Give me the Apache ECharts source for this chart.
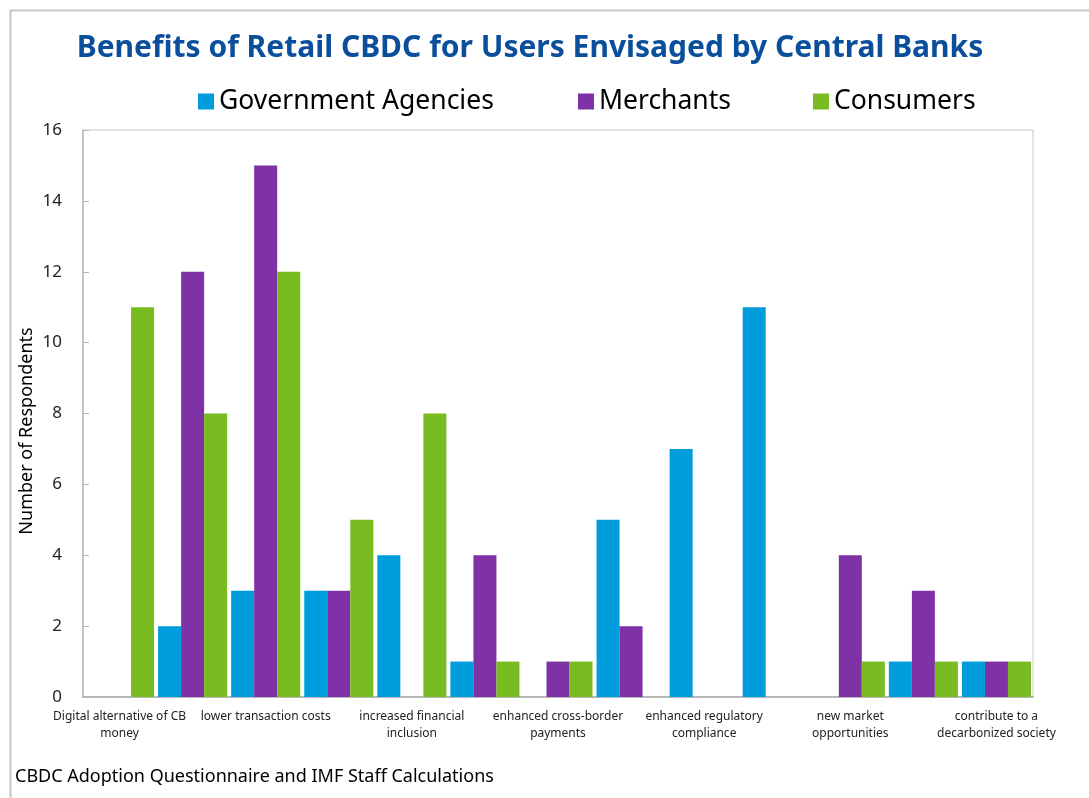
<!DOCTYPE html>
<html>
<head>
<meta charset="utf-8">
<script src="https://cdn.jsdelivr.net/npm/echarts@6/dist/echarts.min.js"></script>
<style>html,body{margin:0;padding:0;background:#fff;}#c{width:1089px;height:798px;}</style>
</head>
<body>
<div id="c"></div>
<script>
const categories = [
  "Digital alternative of CB\nmoney", "",
  "lower transaction costs", "",
  "increased financial\ninclusion", "",
  "enhanced cross-border\npayments", "",
  "enhanced regulatory\ncompliance", "",
  "new market\nopportunities", "",
  "contribute to a\ndecarbonized society"
];
const governmentAgencies = [0, 2, 3, 3, 4, 1, 0, 5, 7, 11, 0, 1, 1];
const merchants          = [0, 12, 15, 3, 0, 4, 1, 2, 0, 0, 4, 3, 1];
const consumers          = [11, 8, 12, 5, 8, 1, 1, 0, 0, 0, 1, 1, 1];
const yTicks = { min: 0, max: 16, interval: 2 };

const FONT = "Noto Sans";
const chart = echarts.init(document.getElementById('c'), null, { renderer: 'canvas' });
const legendText = { fontFamily: FONT, fontSize: 26.5, color: '#000' };
chart.setOption({
  animation: false,
  textStyle: { fontFamily: FONT },
  title: {
    text: 'Benefits of Retail CBDC for Users Envisaged by Central Banks',
    left: 525, top: 28, textAlign: 'center',
    textStyle: { fontFamily: FONT, fontSize: 30, fontWeight: 'bold', color: '#0b4f9c' }
  },
  graphic: [{
    type: 'rect', left: 8, top: 8, shape: { width: 1100, height: 800 },
    style: { fill: 'none', stroke: '#c6c6c6', lineWidth: 2 }, silent: true
  }, {
    type: 'text', left: 15, top: 768,
    style: { text: 'CBDC Adoption Questionnaire and IMF Staff Calculations', fontFamily: FONT, fontSize: 18, fill: '#000' }
  }, {
    type: 'text', x: 27, y: 431, rotation: Math.PI / 2,
    style: { text: 'Number of Respondents', fontFamily: FONT, fontSize: 18, fill: '#000', align: 'center', verticalAlign: 'middle' }
  }],
  legend: [
    { data: ['Government Agencies'], left: 193, top: 83, itemWidth: 16, itemHeight: 16, textStyle: legendText, icon: 'rect' },
    { data: ['Merchants'], left: 573, top: 83, itemWidth: 16, itemHeight: 16, textStyle: legendText, icon: 'rect' },
    { data: ['Consumers'], left: 808, top: 83, itemWidth: 16, itemHeight: 16, textStyle: legendText, icon: 'rect' }
  ],
  grid: { left: 83, right: 56, top: 130, bottom: 101, show: true, borderColor: '#c8c8c8', borderWidth: 1 },
  xAxis: {
    type: 'category', data: categories,
    axisLine: { lineStyle: { color: '#b8b8b8', width: 2 } },
    axisTick: { inside: true, length: 5, interval: 0, lineStyle: { color: '#b8b8b8' } },
    axisLabel: { interval: 0, fontSize: 12, color: '#222', lineHeight: 17, margin: 11 }
  },
  yAxis: {
    type: 'value', min: yTicks.min, max: yTicks.max, interval: yTicks.interval,
    axisLine: { show: true, lineStyle: { color: '#b8b8b8', width: 1.5 } },
    axisTick: { show: true, inside: true, length: 6, lineStyle: { color: '#b8b8b8' } },
    splitLine: { show: false },
    axisLabel: { fontSize: 17, color: '#222', margin: 21 }
  },
  series: [
    { name: 'Government Agencies', type: 'bar', data: governmentAgencies, barGap: '0%', barCategoryGap: '5.5%', itemStyle: { color: '#009ddc' } },
    { name: 'Merchants', type: 'bar', data: merchants, barGap: '0%', barCategoryGap: '5.5%', itemStyle: { color: '#7f31a6' } },
    { name: 'Consumers', type: 'bar', data: consumers, barGap: '0%', barCategoryGap: '5.5%', itemStyle: { color: '#78bc21' } }
  ]
});
</script>
</body>
</html>
